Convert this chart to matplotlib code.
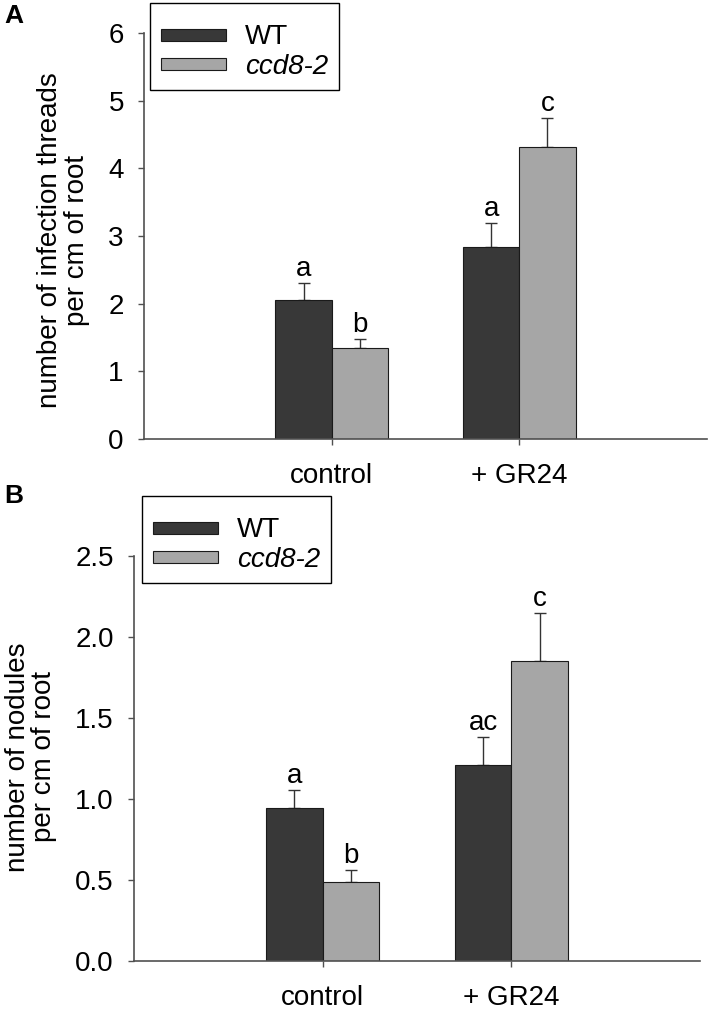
import numpy as np
import matplotlib.pyplot as plt
from matplotlib.patches import Rectangle
from matplotlib.legend_handler import HandlerPatch

plt.rcParams['font.family'] = ['Liberation Sans', 'DejaVu Sans']

# data
groups = ['control', '+ GR24']
genotypes = ['WT', 'ccd8-2']
colors = ['#383838', '#a6a6a6']

it_wt = [2.05, 2.84]
it_wt_err = [0.25, 0.35]
it_ccd8 = [1.34, 4.31]
it_ccd8_err = [0.14, 0.44]
it_letters_wt = ['a', 'a']
it_letters_ccd8 = ['b', 'c']

nod_wt = [0.945, 1.21]
nod_wt_err = [0.11, 0.17]
nod_ccd8 = [0.485, 1.85]
nod_ccd8_err = [0.075, 0.30]
nod_letters_wt = ['a', 'ac']
nod_letters_ccd8 = ['b', 'c']

W, H = 709, 1009
fs = 20
fig = plt.figure(figsize=(W / 100, H / 100), dpi=100)

def px_axes(l, r, t, b):
    return fig.add_axes([l / W, 1 - b / H, (r - l) / W, (b - t) / H])

axA = px_axes(144, 707, 33, 439)
axB = px_axes(134, 700, 556, 961)

axis_col = '#505050'
bw = 0.3

def draw(ax, wt, wt_err, cc, cc_err, lw_, lc_, ymax, yticks, fmt):
    x = np.arange(len(groups))
    b1 = ax.bar(x - bw / 2, wt, bw, color=colors[0], edgecolor='#1a1a1a', linewidth=0.8, label=genotypes[0], zorder=2)
    b2 = ax.bar(x + bw / 2, cc, bw, color=colors[1], edgecolor='#1a1a1a', linewidth=0.8, label=genotypes[1], zorder=2)
    ax.errorbar(x - bw / 2, wt, yerr=[np.zeros(len(wt)), wt_err], fmt='none', ecolor='#333333',
                elinewidth=1, capsize=4, capthick=1, zorder=1)
    ax.errorbar(x + bw / 2, cc, yerr=[np.zeros(len(cc)), cc_err], fmt='none', ecolor='#333333',
                elinewidth=1, capsize=4, capthick=1, zorder=1)
    for xi, v, e, t in zip(x - bw / 2, wt, wt_err, lw_):
        ax.annotate(t, (xi, v + e), xytext=(0, 5), textcoords='offset points', ha='center', va='baseline', fontsize=fs)
    for xi, v, e, t in zip(x + bw / 2, cc, cc_err, lc_):
        ax.annotate(t, (xi, v + e), xytext=(0, 5), textcoords='offset points', ha='center', va='baseline', fontsize=fs)
    ax.set_xlim(-1, 2)
    ax.set_ylim(0, ymax)
    ax.set_xticks(x)
    ax.set_xticklabels(groups, fontsize=fs)
    ax.set_yticks(yticks)
    ax.set_yticklabels([fmt.format(v) for v in yticks], fontsize=fs)
    for s in ['top', 'right']:
        ax.spines[s].set_visible(False)
    for s in ['left', 'bottom']:
        ax.spines[s].set_color(axis_col)
        ax.spines[s].set_linewidth(1.2)
    ax.tick_params(axis='y', direction='out', length=4.5, width=1, color=axis_col, pad=10)
    ax.tick_params(axis='x', direction='out', length=4.5, width=1, color=axis_col, pad=12.5)
    return b1.patches[0], b2.patches[0]

hA = draw(axA, it_wt, it_wt_err, it_ccd8, it_ccd8_err, it_letters_wt, it_letters_ccd8,
          6, [0, 1, 2, 3, 4, 5, 6], '{:g}')
hB = draw(axB, nod_wt, nod_wt_err, nod_ccd8, nod_ccd8_err, nod_letters_wt, nod_letters_ccd8,
          2.5, [0, 0.5, 1.0, 1.5, 2.0, 2.5], '{:.1f}')

# thin legend bars, centred in a taller row
def thin_rect(legend, orig_handle, xdescent, ydescent, width, height, fontsize):
    h = 0.43 * fontsize
    return Rectangle((-xdescent, -ydescent + (height - h) / 2), width, h)

for ax, h, (lx, ly) in [(axA, hA, (150, 3)), (axB, hB, (142, 496))]:
    leg = ax.legend(h, genotypes, loc='upper left', bbox_to_anchor=(lx / W, 1 - ly / H),
                    bbox_transform=fig.transFigure, borderaxespad=0, fancybox=False,
                    edgecolor='black', framealpha=1, fontsize=fs, handlelength=2.35,
                    handleheight=1.2, handletextpad=0.7, labelspacing=0.0, borderpad=0.38,
                    title=' ', title_fontsize=5,
                    handler_map={Rectangle: HandlerPatch(patch_func=thin_rect)})
    leg.get_frame().set_linewidth(1)
    leg.get_texts()[1].set_style('italic')

fig.text(64 / W, 1 - 240 / H, 'number of infection threads\nper cm of root', rotation=90,
         ha='center', va='center', multialignment='center', fontsize=fs, linespacing=1.05)
fig.text(31 / W, 1 - 757 / H, 'number of nodules\nper cm of root', rotation=90,
         ha='center', va='center', multialignment='center', fontsize=fs, linespacing=1.0)

fig.text(14 / W, 1 - 16 / H, 'A', ha='center', va='center', fontsize=19, fontweight='bold')
fig.text(14 / W, 1 - 496 / H, 'B', ha='center', va='center', fontsize=19, fontweight='bold')

fig.savefig('out.png', dpi=100)
